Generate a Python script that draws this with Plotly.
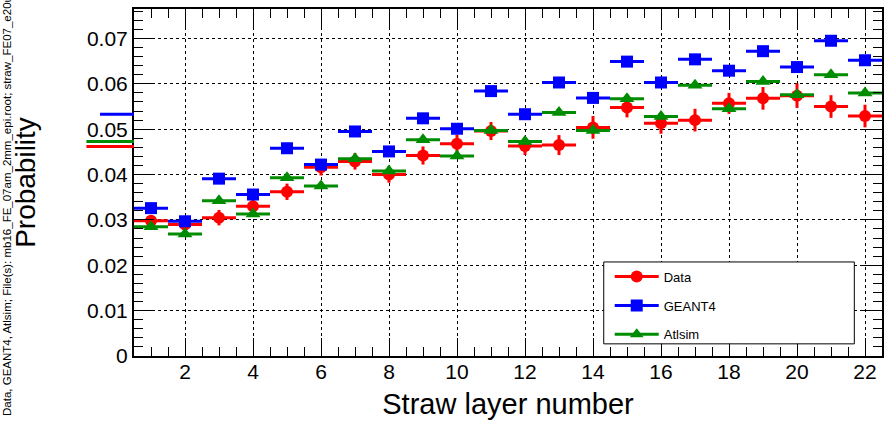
import plotly.graph_objects as go

layers = list(range(1, 23))

data_vals = [0.0298, 0.0290, 0.0305, 0.0330, 0.0362, 0.0416, 0.0429, 0.0400, 0.0442, 0.0468, 0.0496,
             0.0463, 0.0465, 0.0504, 0.0548, 0.0513, 0.0520, 0.0557, 0.0568, 0.0574, 0.0550, 0.0529]
data_err = [0.0010, 0.0012, 0.0017, 0.0015, 0.0018, 0.0018, 0.0018, 0.0018, 0.0020, 0.0020, 0.0020,
            0.0020, 0.0022, 0.0025, 0.0022, 0.0023, 0.0025, 0.0023, 0.0025, 0.0027, 0.0025, 0.0025]

geant4_vals = [0.0326, 0.0297, 0.0391, 0.0356, 0.0458, 0.0422, 0.0495, 0.0451, 0.0524, 0.0501, 0.0584,
               0.0533, 0.0603, 0.0569, 0.0649, 0.0603, 0.0654, 0.0629, 0.0672, 0.0637, 0.0695, 0.0652]
geant4_err = [0.0003] * 22

atlsim_vals = [0.0285, 0.0269, 0.0342, 0.0313, 0.0393, 0.0375, 0.0435, 0.0408, 0.0477, 0.0441, 0.0497,
               0.0473, 0.0537, 0.0497, 0.0567, 0.0528, 0.0597, 0.0545, 0.0605, 0.0576, 0.0620, 0.0580]
atlsim_err = [0.0004] * 22

# stray underflow segments drawn left of the frame
under_names = ["Data", "GEANT4", "Atlsim"]
under_vals = [0.0462, 0.0533, 0.0473]
under_lo = [-0.9, -0.5, -0.9]

series_names = ["Data", "GEANT4", "Atlsim"]
colors = {"Data": "#ff0000", "GEANT4": "#0000ff", "Atlsim": "#008c00"}
symbols = {"Data": "circle", "GEANT4": "square", "Atlsim": "triangle-up"}
msize = {"Data": 12, "GEANT4": 12, "Atlsim": 13}
vals = {"Data": data_vals, "GEANT4": geant4_vals, "Atlsim": atlsim_vals}
errs = {"Data": data_err, "GEANT4": geant4_err, "Atlsim": atlsim_err}

FONT = "Liberation Sans, Arial, Helvetica, sans-serif"

fig = go.Figure()
for name in series_names:
    c = colors[name]
    fig.add_trace(go.Scatter(
        x=layers, y=vals[name], mode="markers", name=name, showlegend=False,
        marker=dict(symbol=symbols[name], size=msize[name], color=c, line=dict(width=0)),
        error_x=dict(type="constant", value=0.5, thickness=3, width=0, color=c),
        error_y=dict(type="data", array=errs[name], thickness=3, width=0, color=c),
    ))

# legend-only entries
for i, name in enumerate(series_names):
    c = colors[name]
    fig.add_trace(go.Scatter(
        x=[None], y=[None], mode="lines+markers", name=name, legendgroup=name,
        line=dict(color=c, width=3),
        marker=dict(symbol=symbols[name], size=12, color=c),
    ))

x0, x1 = 0.5, 22.5
shapes = []
# legend box
shapes.append(dict(type="rect", xref="paper", yref="paper", x0=0.628, x1=0.963, y0=0.035, y1=0.271,
                   line=dict(color="black", width=1), fillcolor="white", layer="above"))
for name, v, lo in zip(under_names, under_vals, under_lo):
    shapes.append(dict(type="line", xref="paper", yref="y",
                       x0=(lo - x0) / (x1 - x0), x1=0, y0=v, y1=v,
                       line=dict(color=colors[name], width=3)))

fig.update_layout(
    width=891, height=422,
    margin=dict(l=134, r=9, t=9, b=66),
    paper_bgcolor="white", plot_bgcolor="white",
    font=dict(family=FONT, color="black"),
    showlegend=True,
    legend=dict(x=0.636, y=0.272, xanchor="left", yanchor="top",
                bgcolor="rgba(0,0,0,0)", borderwidth=0, itemwidth=44,
                font=dict(size=13, family=FONT), tracegroupgap=9),
    shapes=shapes,
    annotations=[dict(
        text="Data, GEANT4, Atlsim; File(s): mb16_FE_07am_2mm_epi.root; straw_FE07_e20um",
        xref="paper", yref="paper", x=(7 - 134) / 748, y=(356 - 418) / 347,
        xanchor="center", yanchor="bottom", textangle=-90, showarrow=False,
        font=dict(size=11.5, family=FONT, color="black"))],
)

fig.update_xaxes(
    range=[x0, x1], tick0=0, dtick=2, ticks="inside", ticklen=18, tickwidth=1, tickcolor="black",
    minor=dict(dtick=0.5, ticks="inside", ticklen=9, tickcolor="black", showgrid=False),
    showline=True, linecolor="black", linewidth=2, mirror="ticks",
    showgrid=True, gridcolor="black", griddash="dot", gridwidth=1, zeroline=False,
    tickfont=dict(size=21, family=FONT), automargin=False, ticklabelstandoff=-4,
    title=dict(text="Straw layer number", font=dict(size=29, family=FONT), standoff=11),
)
fig.update_yaxes(
    range=[0, 0.0765], tick0=0, dtick=0.01, ticks="inside", ticklen=20, tickwidth=1, tickcolor="black",
    minor=dict(dtick=0.002, ticks="inside", ticklen=9, tickcolor="black", showgrid=False),
    showline=True, linecolor="black", linewidth=2, mirror="ticks",
    showgrid=True, gridcolor="black", griddash="dot", gridwidth=1, zeroline=False,
    tickfont=dict(size=21, family=FONT), automargin=False,
    title=dict(text="Probability", font=dict(size=28, family=FONT), standoff=43),
)

fig.write_html("out.html", config={"displayModeBar": False},
               post_script="document.body.style.margin='0';")
